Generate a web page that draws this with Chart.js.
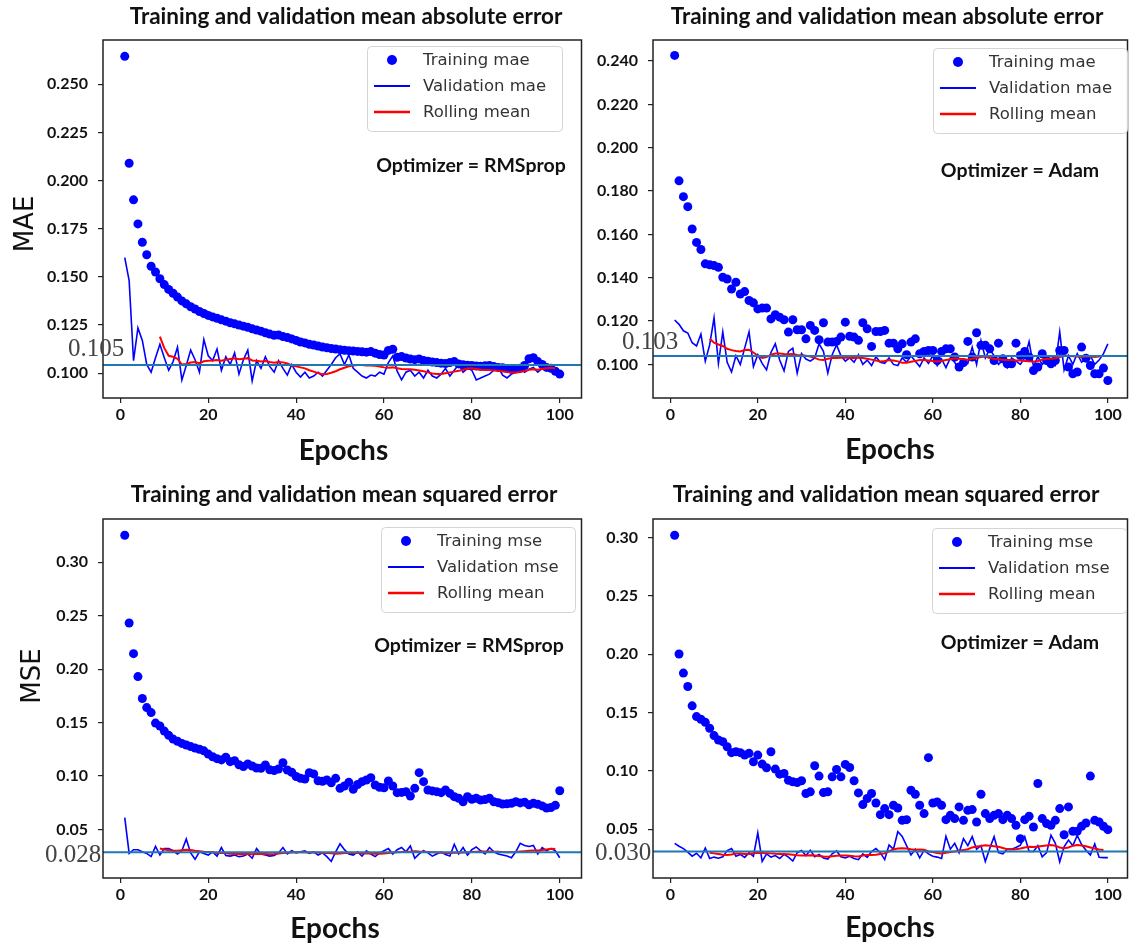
<!DOCTYPE html>
<html><head><meta charset="utf-8">
<script src="https://cdn.jsdelivr.net/npm/chart.js@4/dist/chart.umd.min.js"></script>
<style>
html,body{margin:0;padding:0;background:#fff;overflow:hidden;}
body{width:1132px;height:947px;position:relative;}
canvas{position:absolute;}
</style></head><body>
<canvas id="c1" width="586" height="470" style="left:0px;top:0px"></canvas>
<canvas id="c2" width="546" height="470" style="left:586px;top:0px"></canvas>
<canvas id="c3" width="586" height="477" style="left:0px;top:470px"></canvas>
<canvas id="c4" width="546" height="477" style="left:586px;top:470px"></canvas>
<script>
// ---------- categories ----------
const epochs = [1,2,3,4,5,6,7,8,9,10,11,12,13,14,15,16,17,18,19,20,21,22,23,24,25,26,27,28,29,30,31,32,33,34,35,36,37,38,39,40,41,42,43,44,45,46,47,48,49,50,51,52,53,54,55,56,57,58,59,60,61,62,63,64,65,66,67,68,69,70,71,72,73,74,75,76,77,78,79,80,81,82,83,84,85,86,87,88,89,90,91,92,93,94,95,96,97,98,99,100];
const rollEpochs = [9,10,11,12,13,14,15,16,17,18,19,20,21,22,23,24,25,26,27,28,29,30,31,32,33,34,35,36,37,38,39,40,41,42,43,44,45,46,47,48,49,50,51,52,53,54,55,56,57,58,59,60,61,62,63,64,65,66,67,68,69,70,71,72,73,74,75,76,77,78,79,80,81,82,83,84,85,86,87,88,89,90,91,92,93,94,95,96,97,98,99];

// ---------- tick values ----------
const xTicks = [0,20,40,60,80,100];
const maeRmsTicks = [0.100,0.125,0.150,0.175,0.200,0.225,0.250];
const maeAdamTicks = [0.100,0.120,0.140,0.160,0.180,0.200,0.220,0.240];
const mseTicks = [0.05,0.10,0.15,0.20,0.25,0.30];

// ---------- MAE, RMSprop ----------
const maeRmsTrain = [0.2645,0.2090,0.1900,0.1775,0.1680,0.1615,0.1555,0.1525,0.1490,0.1460,
0.1435,0.1415,0.1395,0.1375,0.1360,0.1345,0.1333,0.1320,0.1310,0.1300,
0.1292,0.1285,0.1277,0.1270,0.1262,0.1256,0.1250,0.1244,0.1238,0.1230,
0.1224,0.1218,0.1210,0.1203,0.1197,0.1198,0.1190,0.1185,0.1178,0.1170,
0.1162,0.1157,0.1150,0.1146,0.1141,0.1136,0.1132,0.1128,0.1125,0.1122,
0.1119,0.1117,0.1115,0.1113,0.1111,0.1109,0.1112,0.1104,0.1097,0.1094,
0.1118,0.1124,0.1082,0.1086,0.1079,0.1073,0.1070,0.1074,0.1066,0.1062,
0.1058,0.1055,0.1052,0.1050,0.1055,0.1060,0.1048,0.1044,0.1041,0.1040,
0.1037,0.1036,0.1038,0.1040,0.1034,0.1030,0.1028,0.1024,0.1020,0.1022,
0.1025,0.1040,0.1075,0.1080,0.1060,0.1045,0.1030,0.1025,0.1010,0.0995];
const maeRmsVal = [0.1600,0.1480,0.1065,0.1235,0.1170,0.1045,0.1005,0.1080,0.1150,0.1080,
0.1015,0.1060,0.1135,0.0965,0.1040,0.1120,0.1070,0.1005,0.1175,0.1090,
0.1065,0.1125,0.1015,0.1085,0.1045,0.1105,0.0995,0.1070,0.1120,0.0960,
0.1065,0.1025,0.1085,0.1035,0.1005,0.1065,0.1025,0.0990,0.1045,0.1005,
0.0980,0.1005,0.0975,0.0985,0.1005,0.0985,0.1015,0.1045,0.1080,0.1100,
0.1045,0.1095,0.1025,0.1005,0.0985,0.0975,0.0990,0.0985,0.1005,0.0995,
0.1055,0.1090,0.1010,0.0965,0.1005,0.1015,0.0985,0.1005,0.0975,0.1015,
0.0985,0.0975,0.0995,0.1025,0.0985,0.1015,0.1045,0.1005,0.1025,0.1015,
0.0965,0.0975,0.0985,0.0995,0.1015,0.1030,0.0990,0.0975,0.0995,0.1005,
0.1025,0.1005,0.1020,0.1030,0.1005,0.1025,0.1030,0.1020,0.1010,0.1000];
const maeRmsRoll = [0.1190,0.1130,0.1090,0.1085,0.1075,0.1045,0.1048,0.1055,0.1058,0.1052,
0.1062,0.1065,0.1066,0.1068,0.1064,0.1070,0.1074,0.1077,0.1072,0.1075,
0.1078,0.1066,0.1064,0.1060,0.1063,0.1058,0.1054,0.1058,0.1056,0.1050,
0.1040,0.1036,0.1030,0.1025,0.1015,0.1008,0.1000,0.0994,0.0996,0.1002,
0.1010,0.1020,0.1028,0.1036,0.1040,0.1042,0.1042,0.1040,0.1040,0.1038,
0.1035,0.1030,0.1028,0.1030,0.1026,0.1022,0.1020,0.1020,0.1018,0.1014,
0.1010,0.1004,0.0998,0.0996,0.0996,0.1000,0.1004,0.1008,0.1012,0.1018,
0.1024,0.1026,0.1022,0.1018,0.1016,0.1016,0.1014,0.1012,0.1010,0.1006,
0.1004,0.1004,0.1006,0.1012,0.1018,0.1020,0.1018,0.1022,0.1026,0.1028,
0.1024];

// ---------- MAE, Adam ----------
const maeAdamTrain = [0.2426,0.1847,0.1774,0.1728,0.1625,0.1563,0.1530,0.1464,0.1460,0.1456,
0.1448,0.1402,0.1394,0.1348,0.1379,0.1325,0.1336,0.1295,0.1284,0.1256,
0.1260,0.1260,0.1210,0.1229,0.1218,0.1206,0.1149,0.1206,0.1160,0.1160,
0.1118,0.1180,0.1157,0.1114,0.1192,0.1103,0.1103,0.1106,0.1126,0.1195,
0.1130,0.1126,0.1111,0.1192,0.1164,0.1083,0.1152,0.1152,0.1157,0.1098,
0.1098,0.1072,0.1095,0.1045,0.1103,0.1118,0.1049,0.1060,0.1064,0.1064,
0.1018,0.1060,0.1072,0.1072,0.1034,0.0988,0.1008,0.1106,0.1034,0.1146,
0.1088,0.1088,0.1072,0.1018,0.1098,0.1026,0.1003,0.1003,0.1098,0.1041,
0.1060,0.1034,0.0972,0.0988,0.1049,0.1018,0.1003,0.1018,0.1064,0.1064,
0.0988,0.0957,0.0965,0.1080,0.1029,0.0995,0.0957,0.0957,0.0983,0.0926];
const maeAdamVal = [0.1205,0.1185,0.1155,0.1145,0.1100,0.1085,0.1140,0.1015,0.1090,0.1215,
0.1005,0.1150,0.1010,0.0965,0.1040,0.1000,0.1075,0.1150,0.0990,0.1045,
0.1005,0.0975,0.1055,0.1095,0.1020,0.0970,0.1060,0.1075,0.0960,0.1050,
0.1025,0.1015,0.1030,0.1095,0.1060,0.0960,0.1045,0.1090,0.1040,0.1015,
0.1030,0.1010,0.1045,0.1000,0.1020,0.0995,0.1035,0.1010,0.1005,0.1030,
0.1000,0.0995,0.1030,0.1010,0.1040,0.1015,0.0990,0.1030,0.1005,0.1040,
0.0995,0.1025,0.0985,0.1030,0.1010,0.0975,0.1015,0.1005,0.1080,0.1000,
0.1110,0.1030,0.1070,0.1040,0.1000,0.1020,0.0985,0.1030,0.1015,0.1000,
0.1030,0.1105,0.0990,0.1035,0.1000,0.1020,0.1005,0.0995,0.1150,0.0975,
0.1040,0.1000,0.1050,0.1010,0.1030,0.1040,0.1000,0.1020,0.1050,0.1095];
const maeAdamRoll = [0.1118,0.1100,0.1092,0.1085,0.1072,0.1066,0.1062,0.1060,0.1066,0.1068,
0.1055,0.1040,0.1030,0.1034,0.1045,0.1050,0.1050,0.1048,0.1047,0.1048,
0.1044,0.1042,0.1040,0.1036,0.1030,0.1022,0.1020,0.1026,0.1030,0.1030,
0.1031,0.1032,0.1030,0.1030,0.1032,0.1030,0.1026,0.1022,0.1018,0.1014,
0.1016,0.1020,0.1018,0.1014,0.1008,0.1008,0.1012,0.1016,0.1020,0.1020,
0.1018,0.1016,0.1014,0.1016,0.1020,0.1024,0.1028,0.1026,0.1024,0.1022,
0.1026,0.1030,0.1034,0.1036,0.1030,0.1026,0.1024,0.1022,0.1020,0.1020,
0.1018,0.1018,0.1016,0.1014,0.1012,0.1016,0.1022,0.1026,0.1026,0.1028,
0.1034,0.1040,0.1040,0.1038,0.1036,0.1034,0.1036,0.1036,0.1034,0.1036,
0.1040];

// ---------- MSE, RMSprop ----------
const mseRmsTrain = [0.3253,0.2432,0.2145,0.1930,0.1725,0.1640,0.1593,0.1495,0.1468,0.1420,
0.1380,0.1345,0.1325,0.1305,0.1290,0.1275,0.1262,0.1250,0.1235,0.1205,
0.1180,0.1162,0.1150,0.1175,0.1134,0.1143,0.1105,0.1088,0.1112,0.1093,
0.1075,0.1072,0.1103,0.1058,0.1050,0.1065,0.1124,0.1056,0.1035,0.0995,
0.0978,0.0972,0.1031,0.1019,0.0955,0.0950,0.0962,0.0937,0.0978,0.0884,
0.0906,0.0940,0.0875,0.0920,0.0947,0.0962,0.0984,0.0915,0.0894,0.0890,
0.0953,0.0906,0.0844,0.0846,0.0852,0.0812,0.0884,0.1031,0.0947,0.0869,
0.0860,0.0853,0.0844,0.0869,0.0837,0.0806,0.0791,0.0759,0.0806,0.0781,
0.0791,0.0775,0.0780,0.0791,0.0759,0.0750,0.0737,0.0740,0.0745,0.0759,
0.0748,0.0755,0.0730,0.0745,0.0735,0.0720,0.0700,0.0705,0.0725,0.0862];
const mseRmsVal = [0.0610,0.0275,0.0310,0.0310,0.0290,0.0275,0.0245,0.0340,0.0260,0.0320,
0.0320,0.0300,0.0270,0.0300,0.0410,0.0280,0.0220,0.0290,0.0275,0.0260,
0.0290,0.0250,0.0330,0.0255,0.0250,0.0260,0.0245,0.0250,0.0270,0.0230,
0.0320,0.0270,0.0260,0.0250,0.0255,0.0280,0.0330,0.0270,0.0300,0.0280,
0.0290,0.0300,0.0275,0.0290,0.0260,0.0280,0.0245,0.0200,0.0290,0.0365,
0.0310,0.0270,0.0260,0.0290,0.0250,0.0300,0.0270,0.0245,0.0280,0.0300,
0.0320,0.0270,0.0310,0.0330,0.0290,0.0345,0.0230,0.0270,0.0300,0.0280,
0.0250,0.0270,0.0290,0.0265,0.0250,0.0360,0.0270,0.0330,0.0260,0.0310,
0.0335,0.0300,0.0270,0.0330,0.0290,0.0270,0.0260,0.0250,0.0235,0.0290,
0.0370,0.0350,0.0340,0.0350,0.0270,0.0330,0.0300,0.0320,0.0300,0.0235];
const mseRmsRoll = [0.0322,0.0312,0.0305,0.0302,0.0300,0.0305,0.0310,0.0308,0.0300,0.0295,
0.0290,0.0288,0.0285,0.0280,0.0282,0.0276,0.0272,0.0270,0.0270,0.0272,
0.0270,0.0268,0.0272,0.0270,0.0270,0.0268,0.0270,0.0275,0.0280,0.0282,
0.0284,0.0285,0.0286,0.0285,0.0284,0.0283,0.0283,0.0280,0.0278,0.0276,
0.0272,0.0275,0.0280,0.0282,0.0280,0.0278,0.0276,0.0275,0.0274,0.0272,
0.0272,0.0274,0.0278,0.0283,0.0285,0.0288,0.0290,0.0292,0.0295,0.0292,
0.0290,0.0288,0.0286,0.0284,0.0282,0.0280,0.0280,0.0282,0.0282,0.0283,
0.0285,0.0288,0.0290,0.0292,0.0293,0.0292,0.0290,0.0290,0.0288,0.0287,
0.0286,0.0288,0.0292,0.0296,0.0299,0.0302,0.0303,0.0306,0.0312,0.0318,
0.0316];

// ---------- MSE, Adam ----------
const mseAdamTrain = [0.3020,0.2002,0.1839,0.1724,0.1558,0.1466,0.1443,0.1417,0.1366,0.1303,
0.1265,0.1251,0.1208,0.1157,0.1165,0.1157,0.1136,0.1151,0.1079,0.1136,
0.1059,0.1028,0.1165,0.1016,0.0973,0.0979,0.0921,0.0907,0.0901,0.0916,
0.0807,0.0821,0.1045,0.0956,0.0815,0.0821,0.0950,0.1013,0.0950,0.1056,
0.1030,0.0916,0.0812,0.0712,0.0764,0.0807,0.0726,0.0626,0.0678,0.0626,
0.0706,0.0683,0.0577,0.0583,0.0835,0.0801,0.0706,0.0635,0.1114,0.0726,
0.0735,0.0706,0.0583,0.0620,0.0592,0.0692,0.0577,0.0663,0.0669,0.0563,
0.0801,0.0635,0.0592,0.0620,0.0635,0.0583,0.0620,0.0592,0.0534,0.0420,
0.0583,0.0612,0.0520,0.0893,0.0592,0.0549,0.0534,0.0577,0.0678,0.0454,
0.0692,0.0483,0.0483,0.0526,0.0554,0.0956,0.0577,0.0563,0.0526,0.0497];
const mseAdamVal = [0.0380,0.0355,0.0335,0.0305,0.0270,0.0295,0.0255,0.0340,0.0250,0.0262,
0.0252,0.0265,0.0318,0.0335,0.0270,0.0285,0.0260,0.0300,0.0270,0.0470,
0.0225,0.0290,0.0262,0.0275,0.0250,0.0285,0.0262,0.0228,0.0300,0.0318,
0.0275,0.0320,0.0265,0.0285,0.0255,0.0245,0.0290,0.0315,0.0265,0.0255,
0.0270,0.0250,0.0240,0.0290,0.0260,0.0310,0.0335,0.0300,0.0240,0.0365,
0.0330,0.0480,0.0440,0.0360,0.0280,0.0330,0.0255,0.0320,0.0290,0.0270,
0.0262,0.0250,0.0440,0.0330,0.0380,0.0300,0.0420,0.0360,0.0437,0.0330,
0.0360,0.0225,0.0335,0.0437,0.0300,0.0290,0.0330,0.0330,0.0345,0.0365,
0.0437,0.0310,0.0310,0.0360,0.0265,0.0300,0.0450,0.0380,0.0222,0.0350,
0.0408,0.0360,0.0448,0.0370,0.0320,0.0280,0.0375,0.0260,0.0258,0.0258];
const mseAdamRoll = [0.0300,0.0294,0.0288,0.0282,0.0280,0.0285,0.0292,0.0292,0.0288,0.0288,
0.0295,0.0300,0.0298,0.0296,0.0294,0.0290,0.0288,0.0288,0.0286,0.0282,
0.0278,0.0275,0.0276,0.0278,0.0276,0.0272,0.0268,0.0266,0.0270,0.0274,
0.0275,0.0276,0.0274,0.0270,0.0268,0.0275,0.0280,0.0280,0.0282,0.0288,
0.0294,0.0312,0.0328,0.0335,0.0337,0.0335,0.0330,0.0326,0.0328,0.0325,
0.0310,0.0305,0.0298,0.0294,0.0300,0.0306,0.0310,0.0316,0.0322,0.0330,
0.0345,0.0352,0.0358,0.0364,0.0360,0.0355,0.0350,0.0340,0.0330,0.0328,
0.0330,0.0336,0.0345,0.0350,0.0348,0.0352,0.0358,0.0362,0.0365,0.0360,
0.0345,0.0338,0.0345,0.0360,0.0365,0.0362,0.0355,0.0345,0.0335,0.0328,
0.0322];

// ---------- reference lines ----------
const refValues = [0.1042, 0.1039, 0.0286, 0.0310];
const refLabels = ['0.105', '0.103', '0.028', '0.030'];

// ---------- texts ----------
const titleMae = 'Training and validation mean absolute error';
const titleMse = 'Training and validation mean squared error';
const legendMae = ['Training mae', 'Validation mae', 'Rolling mean'];
const legendMse = ['Training mse', 'Validation mse', 'Rolling mean'];
const optRms = 'Optimizer = RMSprop';
const optAdam = 'Optimizer = Adam';
const xTitle = 'Epochs';

const BLUE = '#0000ff', RED = '#ff0000', REFC = '#1f77b4';

const panels = [
  {id:'c1', origin:[0,0], size:[586,470], area:[103,40,584,398], xMax:104.95, yMin:0.0871, yMax:0.2730,
   yTicks:maeRmsTicks, dec:3, train:maeRmsTrain, val:maeRmsVal, roll:maeRmsRoll, ref:refValues[0], refLabel:refLabels[0],
   legend:legendMae, title:titleMae, yTitle:'MAE', opt:optRms,
   pos:{title:[346,17], yTitle:[26,224], xTitle:[343.5,451], legend:[367,46,195,85], opt:[471,166], refLab:[68,349]}},
  {id:'c2', origin:[586,0], size:[546,470], area:[653,40,1132,398], xMax:104.49, yMin:0.0845, yMax:0.2497,
   yTicks:maeAdamTicks, dec:3, train:maeAdamTrain, val:maeAdamVal, roll:maeAdamRoll, ref:refValues[1], refLabel:refLabels[1],
   legend:legendMae, title:titleMae, yTitle:null, opt:optAdam,
   pos:{title:[887,17], xTitle:[890,450], legend:[933,48,194,85], opt:[1020,171], refLab:[622,342]}},
  {id:'c3', origin:[0,470], size:[586,477], area:[103,519,584,878], xMax:104.95, yMin:0.0045, yMax:0.3405,
   yTicks:mseTicks, dec:2, train:mseRmsTrain, val:mseRmsVal, roll:mseRmsRoll, ref:refValues[2], refLabel:refLabels[2],
   legend:legendMse, title:titleMse, yTitle:'MSE', opt:optRms,
   pos:{title:[344,495], yTitle:[33,676], xTitle:[335,929], legend:[381,527,194,85], opt:[469,646], refLab:[45,855]}},
  {id:'c4', origin:[586,470], size:[546,477], area:[653,519,1132,878], xMax:104.49, yMin:0.0083, yMax:0.3159,
   yTicks:mseTicks, dec:2, train:mseAdamTrain, val:mseAdamVal, roll:mseAdamRoll, ref:refValues[3], refLabel:refLabels[3],
   legend:legendMse, title:titleMse, yTitle:null, opt:optAdam,
   pos:{title:[886,495], xTitle:[890,928], legend:[932,528,194,85], opt:[1020,643], refLab:[595,853]}}
];

function decor(p){
  const ox = p.origin[0], oy = p.origin[1];
  const L = (v) => v - ox, T = (v) => v - oy;
  return {
    id:'decor',
    afterDatasetsDraw(chart){
      const ctx = chart.ctx, a = chart.chartArea, y = chart.scales.y;
      ctx.save();
      const py = y.getPixelForValue(p.ref);
      ctx.strokeStyle = REFC; ctx.lineWidth = 2;
      ctx.beginPath(); ctx.moveTo(a.left, py); ctx.lineTo(a.right, py); ctx.stroke();
      ctx.strokeStyle = '#222'; ctx.lineWidth = 1.5;
      ctx.strokeRect(a.left, a.top, a.right - a.left, a.bottom - a.top);
      ctx.restore();
    },
    afterDraw(chart){
      const ctx = chart.ctx;
      ctx.save();
      ctx.textBaseline = 'middle';
      // title
      ctx.fillStyle = '#111'; ctx.textAlign = 'center';
      ctx.font = 'bold 22.5px Lato';
      ctx.fillText(p.title, L(p.pos.title[0]), T(p.pos.title[1]));
      // x title
      ctx.font = 'bold 28px Lato';
      ctx.fillText(xTitle, L(p.pos.xTitle[0]), T(p.pos.xTitle[1]));
      // y title
      if (p.yTitle){
        ctx.save();
        ctx.translate(L(p.pos.yTitle[0]), T(p.pos.yTitle[1]));
        ctx.rotate(-Math.PI/2);
        ctx.font = '26px "DejaVu Sans"';
        ctx.fillText(p.yTitle, 0, 0);
        ctx.restore();
      }
      // optimizer note
      ctx.font = 'bold 19.5px Lato';
      ctx.fillText(p.opt, L(p.pos.opt[0]), T(p.pos.opt[1]));
      // legend
      const [lx, ly, lw, lh] = p.pos.legend;
      const bx = L(lx), by = T(ly);
      ctx.beginPath();
      ctx.roundRect(bx + 0.5, by + 0.5, lw, lh, 4);
      ctx.fillStyle = 'rgba(255,255,255,0.85)'; ctx.fill();
      ctx.strokeStyle = '#d4d4d4'; ctx.lineWidth = 1; ctx.stroke();
      const ds = chart.data.datasets;
      const rows = [by + 14, by + 40, by + 66];
      ds.forEach((d, i) => {
        const ry = rows[i];
        if (d.showLine === false){
          ctx.fillStyle = d.pointBackgroundColor;
          ctx.beginPath(); ctx.arc(bx + 25, ry, 5, 0, Math.PI*2); ctx.fill();
        } else {
          ctx.strokeStyle = d.borderColor; ctx.lineWidth = i === 2 ? 2.4 : 2;
          ctx.beginPath(); ctx.moveTo(bx + 7, ry); ctx.lineTo(bx + 43, ry); ctx.stroke();
        }
        ctx.fillStyle = '#333'; ctx.textAlign = 'left';
        ctx.font = '16.5px "DejaVu Sans"';
        ctx.fillText(d.label, bx + 56, ry + 1);
      });
      // reference label
      ctx.fillStyle = '#444'; ctx.textAlign = 'left';
      ctx.font = '25px "Liberation Serif"';
      ctx.fillText(p.refLabel, L(p.pos.refLab[0]), T(p.pos.refLab[1]));
      ctx.restore();
    }
  };
}

function makeChart(p){
  const W = p.size[0], H = p.size[1];
  const ox = p.origin[0], oy = p.origin[1];
  const Lw = p.area[0] - ox, Tp = p.area[1] - oy, R = p.area[2] - ox, B = p.area[3] - oy;
  const pts = (ys, xs) => xs.map((e, i) => ({x: e, y: ys[i]}));
  const tickFont = {family: 'Lato', weight: 'bold', size: 16};
  const grid = {drawOnChartArea: false, drawTicks: true, tickLength: 5, color: '#222', lineWidth: 1.2};
  return new Chart(document.getElementById(p.id), {
    type: 'line',
    data: {datasets: [
      {label: p.legend[0], data: pts(p.train, epochs), showLine: false, pointRadius: 4.5,
       pointBackgroundColor: BLUE, pointBorderWidth: 0, borderColor: BLUE, order: 3},
      {label: p.legend[1], data: pts(p.val, epochs), borderColor: BLUE, borderWidth: 1.6,
       pointRadius: 0, tension: 0, fill: false, order: 2},
      {label: p.legend[2], data: pts(p.roll, rollEpochs), borderColor: RED, borderWidth: 2,
       pointRadius: 0, tension: 0, fill: false, order: 1}
    ]},
    options: {
      responsive: false, animation: false, events: [],
      layout: {padding: {left: 0, top: Tp, right: W - R, bottom: 0}},
      plugins: {legend: {display: false}, tooltip: {enabled: false}, title: {display: false}},
      scales: {
        x: {type: 'linear', min: -3.95, max: p.xMax,
            afterBuildTicks: s => { s.ticks = xTicks.map(v => ({value: v})); },
            afterFit: s => { s.height = H - B; },
            grid: grid, border: {display: false},
            ticks: {color: '#111', font: tickFont, padding: 2, maxRotation: 0, autoSkip: false,
                    callback: v => String(v)}},
        y: {type: 'linear', min: p.yMin, max: p.yMax,
            afterBuildTicks: s => { s.ticks = p.yTicks.map(v => ({value: v})); },
            afterFit: s => { s.width = Lw; },
            grid: grid, border: {display: false},
            ticks: {color: '#111', font: tickFont, padding: 10, autoSkip: false,
                    callback: v => Number(v).toFixed(p.dec)}}
      }
    },
    plugins: [decor(p)]
  });
}

panels.forEach(makeChart);
</script>
</body></html>
